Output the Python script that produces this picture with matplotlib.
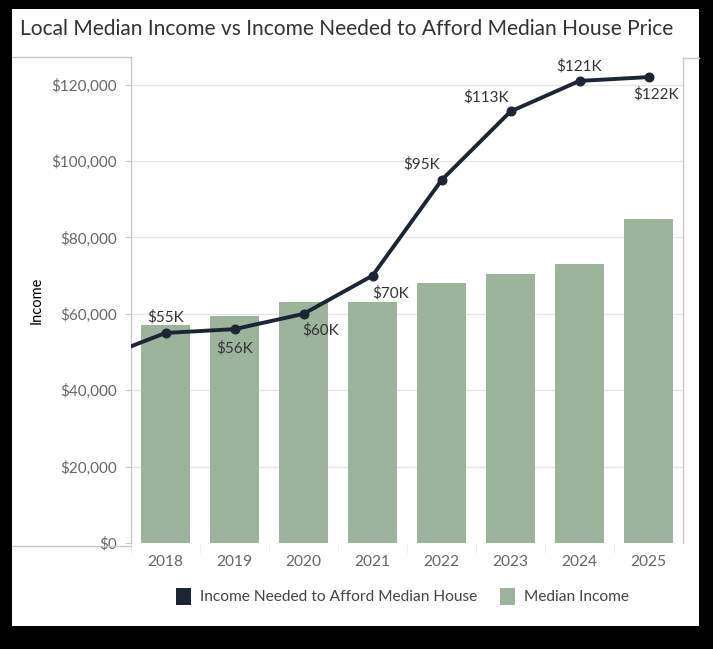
import matplotlib.pyplot as plt
from matplotlib.lines import Line2D
from matplotlib.patches import Rectangle
from matplotlib.ticker import FuncFormatter, MultipleLocator

plt.rcParams['font.family'] = ['Lato', 'DejaVu Sans']

years = ['2018', '2019', '2020', '2021', '2022', '2023', '2024', '2025']
median_income = [57000, 59500, 63200, 63200, 68100, 70400, 73100, 84800]
income_needed = [55000, 56000, 60000, 70000, 95000, 113000, 121000, 122000]
needed_labels = ['$55K', '$56K', '$60K', '$70K', '$95K', '$113K', '$121K', '$122K']
# the line runs in from the previous year, off the left edge
income_needed_prev = 48000

bar_color = '#9bb49b'
line_color = '#1c2533'
grid_color = '#e6e6e6'
border_color = '#c8c8c8'

W, H = 713, 649
fig = plt.figure(figsize=(W / 100, H / 100), dpi=100, facecolor='black')

def px(x, y):
    return x / W, 1 - y / H

# white card on the black background
x0, y0 = px(12, 626)
x1, y1 = px(699, 9)
fig.patches.append(Rectangle((x0, y0), x1 - x0, y1 - y0, transform=fig.transFigure,
                             facecolor='white', edgecolor='none', zorder=-10))

ax_l, ax_b = px(131, 543)
ax_r, ax_t = px(683, 58)
ax = fig.add_axes([ax_l, ax_b, ax_r - ax_l, ax_t - ax_b])
ax.set_facecolor('white')

xs = list(range(len(years)))
ax.bar(xs, median_income, width=0.72, color=bar_color, zorder=2)
ax.plot([-1] + xs, [income_needed_prev] + income_needed, color=line_color, lw=2.8, zorder=3,
        solid_capstyle='round', solid_joinstyle='round')
ax.plot(xs, income_needed, 'o', color=line_color, ms=6.2, zorder=4)

offsets = [(0, 16), (0, -19), (17, -16), (18, -18), (-20, 16), (-24, 14), (0, 15), (8, -17)]
for x, v, lab, off in zip(xs, income_needed, needed_labels, offsets):
    ax.annotate(lab, (x, v), xytext=off, textcoords='offset pixels', ha='center', va='center',
                fontsize=11, color='#333333', zorder=5)

ax.set_xlim(-0.5, len(years) - 0.5)
ax.set_ylim(0, 127000)
ax.yaxis.set_major_locator(MultipleLocator(20000))
ax.yaxis.set_major_formatter(FuncFormatter(lambda v, p: f'${v:,.0f}'))
ax.set_xticks(xs)
ax.set_xticklabels(years)
ax.set_xticks([x + 0.5 for x in xs[:-1]] + [-0.5], minor=True)

for g in range(20000, 127000, 20000):
    ax.axhline(g, color=grid_color, lw=0.9, zorder=1)

ax.tick_params(axis='y', length=4, color=border_color, labelsize=11, labelcolor='#666666', pad=6)
ax.tick_params(axis='x', which='major', length=0, labelsize=11.2, labelcolor='#666666', pad=9)
ax.tick_params(axis='x', which='minor', length=7, color='#ececec')

for s in ['top', 'bottom']:
    ax.spines[s].set_visible(False)
for s in ['left', 'right']:
    ax.spines[s].set_color(border_color)
    ax.spines[s].set_linewidth(1)

ax.set_ylabel('Income', fontsize=10.5, color='black')
ax.yaxis.set_label_coords((44 - 131) / (683 - 131), 0.5)

# header pane borders
for (xa, ya), (xb, yb) in [((12, 57), (131, 57)), ((12, 546), (131, 546)), ((683, 58), (699, 58))]:
    pa, pb = px(xa, ya), px(xb, yb)
    fig.add_artist(Line2D([pa[0], pb[0]], [pa[1], pb[1]], color=border_color, lw=1,
                          transform=fig.transFigure))

tx, ty = px(20, 29)
fig.text(tx, ty, 'Local Median Income vs Income Needed to Afford Median House Price',
         fontsize=15.1, color='#333333', ha='left', va='center')

# legend
for sx, color, label in [(176, line_color, 'Income Needed to Afford Median House'),
                         (500, bar_color, 'Median Income')]:
    ra, rb = px(sx, 605)
    fig.patches.append(Rectangle((ra, rb), 15 / W, 17 / H, transform=fig.transFigure,
                                 facecolor=color, edgecolor='none'))
    la, lb = px(sx + 24, 597)
    fig.text(la, lb, label, fontsize=11.2, color='#444444', ha='left', va='center')

fig.savefig('out.png', dpi=100, facecolor='black')
